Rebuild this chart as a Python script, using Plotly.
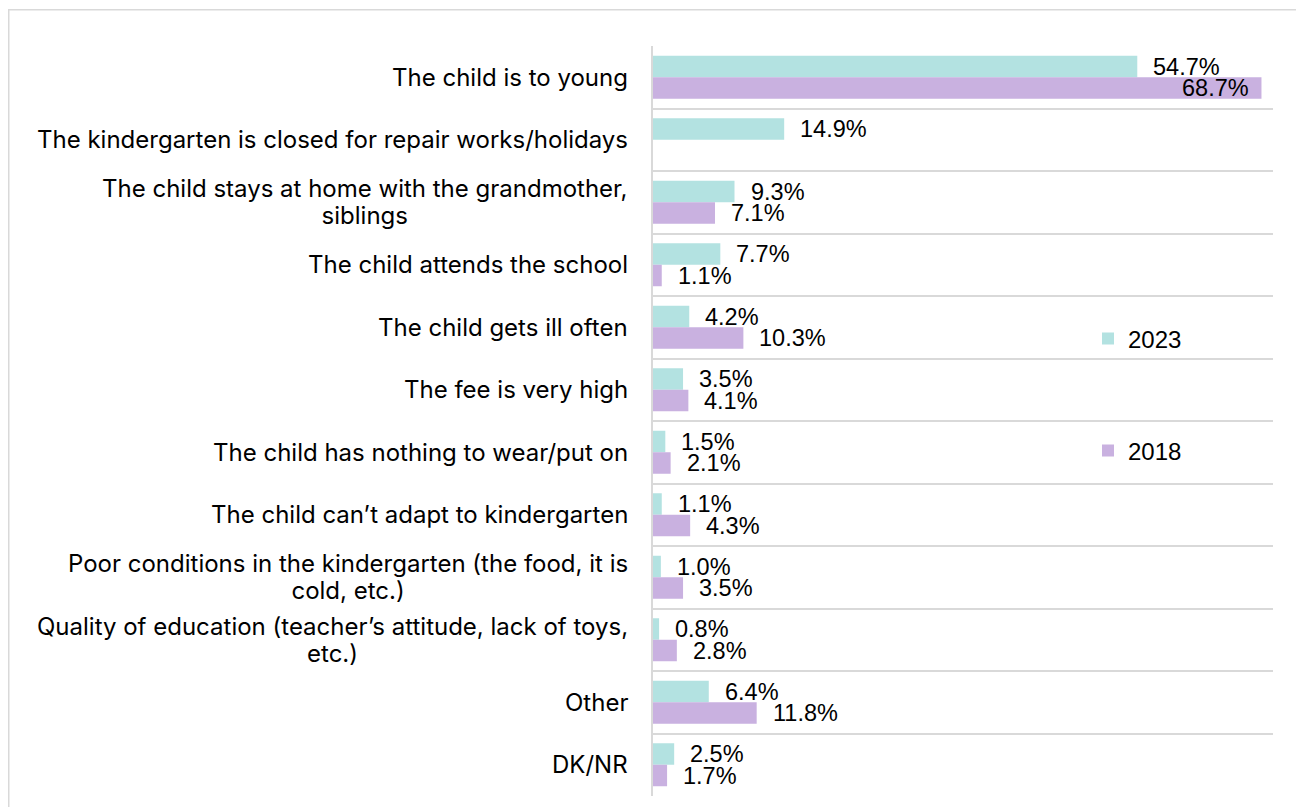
import plotly.graph_objects as go

categories = [
    "The child is to young",
    "The kindergarten is closed for repair works/holidays",
    "The child stays at home with the grandmother,<br>siblings",
    "The child attends the school",
    "The child gets ill often",
    "The fee is very high",
    "The child has nothing to wear/put on",
    "The child can\u2019t adapt to kindergarten",
    "Poor conditions in the kindergarten (the food, it is<br>cold, etc.)",
    "Quality of education (teacher\u2019s attitude, lack of toys,<br>etc.)",
    "Other",
    "DK/NR",
]
values_2023 = [54.7, 14.9, 9.3, 7.7, 4.2, 3.5, 1.5, 1.1, 1.0, 0.8, 6.4, 2.5]
values_2018 = [68.7, None, 7.1, 1.1, 10.3, 4.1, 2.1, 4.3, 3.5, 2.8, 11.8, 1.7]
series_names = ["2023", "2018"]
colors = ["#b3e2e1", "#c9b1e0"]

# figure is drawn inside the page's 8px body margin
W, H = 1296, 799
L, R, T, B = 644, 31, 38, 11
CAT_FONT = "Inter, Roboto, Arial, sans-serif"
NUM_FONT = "Liberation Sans, Arial, sans-serif"
CAT_FS = 24
NUM_FS = 23.5
LINE_STEP = 27  # px between label lines

n = len(categories)
ypos = list(range(n))
bw = 0.344

fig = go.Figure()
fig.add_trace(go.Bar(
    y=ypos, x=values_2023, orientation="h", name=series_names[0],
    marker=dict(color=colors[0], line=dict(width=0)),
    width=bw, offset=-bw, legend="legend",
))
fig.add_trace(go.Bar(
    y=ypos, x=values_2018, orientation="h", name=series_names[1],
    marker=dict(color=colors[1], line=dict(width=0)),
    width=bw, offset=0, legend="legend2",
))

annotations = []
base_fs = LINE_STEP / 1.3  # plotly line height is 1.3 x annotation font size
for i, cat in enumerate(categories):
    lines = cat.split("<br>")
    txt = "<br>".join(f'<span style="font-size:{CAT_FS}px">{ln}</span>' for ln in lines)
    annotations.append(dict(
        x=0, xref="paper", y=i, yref="y", text=txt, showarrow=False,
        xanchor="right", yanchor="middle", align="center", xshift=-22,
        font=dict(family=CAT_FONT, size=base_fs, color="#000"),
    ))
for vals, off in ((values_2023, -bw / 2), (values_2018, bw / 2)):
    for i, v in enumerate(vals):
        if v is None:
            continue
        inside = v > 60
        annotations.append(dict(
            x=v, xref="x", y=i + off, yref="y", text=f"{v:.1f}%",
            showarrow=False, xanchor="right" if inside else "left",
            yanchor="middle", xshift=-10 if inside else 14,
            font=dict(family=NUM_FONT, size=NUM_FS, color="#000"),
        ))

pw = W - L - R
ph = H - T - B
def px_x(p):
    return (p - L) / pw
def px_y(p):
    return (H - B - p) / ph

fig.add_shape(type="rect", xref="paper", yref="paper",
              x0=px_x(0.75), x1=px_x(1291), y0=px_y(1.75), y1=px_y(812),
              line=dict(color="#d9d9d9", width=1.5), layer="below")

fig.update_layout(
    width=W, height=H,
    margin=dict(l=L, r=R, t=T, b=B, pad=0),
    paper_bgcolor="white", plot_bgcolor="white",
    barmode="overlay",
    font=dict(family=CAT_FONT, size=CAT_FS, color="#000"),
    xaxis=dict(range=[0, 70], showgrid=False, showticklabels=False,
               zeroline=False, showline=False, ticks=""),
    yaxis=dict(range=[n - 0.5, -0.5], tickmode="linear", tick0=-0.5, dtick=1,
               showgrid=True, gridcolor="#d9d9d9", gridwidth=2,
               showticklabels=False, zeroline=False, ticks="",
               showline=False),
    annotations=annotations,
    legend=dict(x=px_x(1080), y=px_y(331), xanchor="left", yanchor="middle",
                bgcolor="rgba(0,0,0,0)", font=dict(family=NUM_FONT, size=24)),
    legend2=dict(x=px_x(1080), y=px_y(443), xanchor="left", yanchor="middle",
                 bgcolor="rgba(0,0,0,0)", font=dict(family=NUM_FONT, size=24)),
    showlegend=True,
)
fig.add_shape(type="line", xref="paper", yref="paper", x0=0, x1=0, y0=0, y1=1,
              line=dict(color="#d9d9d9", width=2))

fig.write_html("out.html")
